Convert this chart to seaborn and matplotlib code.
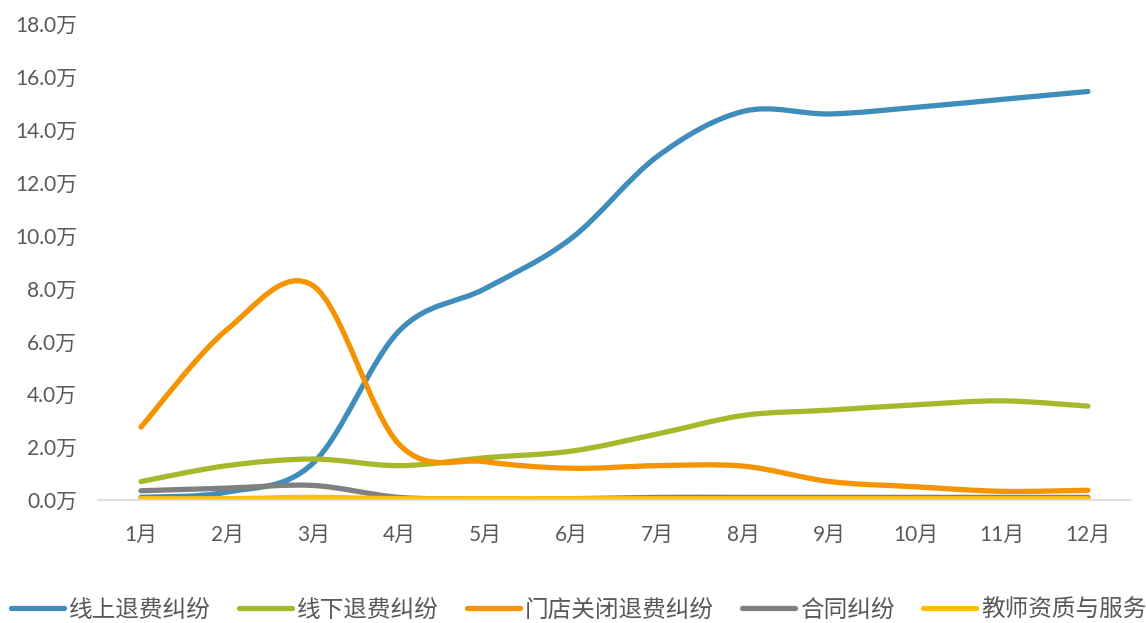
import numpy as np
import matplotlib
matplotlib.use("Agg")
import matplotlib.pyplot as plt
from matplotlib.path import Path
from matplotlib.patches import PathPatch
from matplotlib.lines import Line2D
import seaborn as sns

sns.set_theme(style="white")
plt.rcParams["font.family"] = ["Lato", "Noto Sans CJK SC", "DejaVu Sans"]

# ── Data (unit: 万) ───────────────────────────────────────────────────────────
months = ["1月", "2月", "3月", "4月", "5月", "6月", "7月", "8月", "9月", "10月", "11月", "12月"]
online = [0.1, 0.3, 1.4, 6.4, 8.0, 9.9, 13.0, 14.7, 14.6, 14.85, 15.15, 15.45]
offline = [0.7, 1.3, 1.55, 1.3, 1.6, 1.85, 2.5, 3.2, 3.4, 3.6, 3.75, 3.55]
store_closed = [2.76, 6.45, 8.1, 2.1, 1.45, 1.2, 1.3, 1.28, 0.7, 0.5, 0.33, 0.37]
contract = [0.35, 0.45, 0.55, 0.1, 0.05, 0.05, 0.1, 0.1, 0.1, 0.1, 0.1, 0.1]
teacher = [0.05, 0.05, 0.1, 0.05, 0.05, 0.05, 0.05, 0.05, 0.05, 0.05, 0.05, 0.05]

names = ["线上退费纠纷", "线下退费纠纷", "门店关闭退费纠纷", "合同纠纷", "教师资质与服务"]
series = [online, offline, store_closed, contract, teacher]
colors = ["#3F8DBA", "#A7B92A", "#F59300", "#808080", "#FFC000"]

LW = 3.8


def smooth_path(xs, ys):
    """Excel-like smoothed line: cubic Bezier through the points."""
    pts = np.column_stack([xs, ys]).astype(float)
    n = len(pts)
    verts = [pts[0]]
    codes = [Path.MOVETO]
    for i in range(n - 1):
        p0 = pts[i - 1] if i > 0 else pts[i]
        p1 = pts[i]
        p2 = pts[i + 1]
        p3 = pts[i + 2] if i + 2 < n else pts[i + 1]
        c1 = p1 + (p2 - p0) / 6.0
        c2 = p2 - (p3 - p1) / 6.0
        verts += [c1, c2, p2]
        codes += [Path.CURVE4] * 3
    return Path(verts, codes)


fig = plt.figure(figsize=(11.46, 6.23), dpi=100)
ax = fig.add_axes([0.0855, 0.1974, 0.9014, 0.764])

x = np.arange(len(months))
for vals, c in zip(series, colors):
    patch = PathPatch(
        smooth_path(x, vals),
        facecolor="none",
        edgecolor=c,
        linewidth=LW,
        capstyle="round",
        joinstyle="round",
    )
    ax.add_patch(patch)

ax.set_xlim(-0.5, len(months) - 0.5)
ax.set_ylim(0, 18)
ax.set_xticks(x)
ax.set_xticklabels(months)
ax.set_yticks(np.arange(0, 19, 2))
ax.set_yticklabels([f"{v:.1f}万" for v in np.arange(0, 19, 2)])
ax.tick_params(axis="both", length=0, labelsize=15, labelcolor="#595959")
ax.tick_params(axis="x", pad=18)
ax.tick_params(axis="y", pad=15)

for s in ["top", "right", "left"]:
    ax.spines[s].set_visible(False)
ax.spines["bottom"].set_color("#D9D9D9")
ax.spines["bottom"].set_linewidth(1.2)
ax.grid(False)

handles = [Line2D([0], [0], color=c, linewidth=LW, solid_capstyle="round") for c in colors]
fig.legend(
    handles,
    names,
    loc="center",
    bbox_to_anchor=(0.505, 0.022),
    ncol=5,
    frameon=False,
    fontsize=17,
    handlelength=2.25,
    handletextpad=0.2,
    columnspacing=1.2,
    borderaxespad=0,
    labelcolor="#595959",
)

fig.savefig("out.png", dpi=100)
